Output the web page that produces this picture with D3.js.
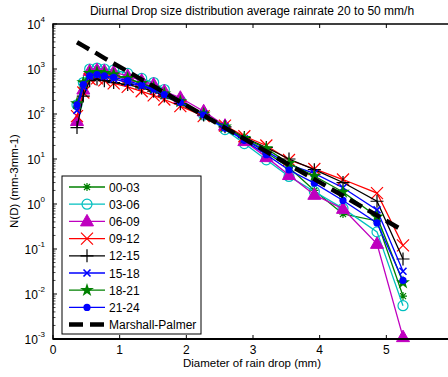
<!DOCTYPE html>
<html>
<head>
<meta charset="utf-8">
<script src="https://cdn.jsdelivr.net/npm/d3@7"></script>
<style>
  body { margin: 0; background: #fff; }
  svg { font-family: "Liberation Sans", Arial, sans-serif; display: block; }
</style>
</head>
<body>
<div id="container"></div>
<script>
// drop diameter bins (mm)
var diam = [0.36, 0.455, 0.55, 0.66, 0.77, 0.91, 1.12, 1.33, 1.51, 1.67, 1.91, 2.26, 2.58, 2.87, 3.2, 3.54, 3.92, 4.35, 4.86, 5.25]

// N(D) per 3 hour window
var n0003 = [150, 450, 750, 800, 750, 700, 600, 480, 380, 280, 190, 100, 52, 28, 14, 6.5, 2.0, 0.6, 0.42, 0.009]
var n0306 = [160, 500, 1000, 1050, 1000, 950, 800, 620, 500, 350, 200, 95, 45, 22, 9.6, 4.1, 1.9, 0.8, 0.24, 0.0055]
var n0609 = [70, 350, 900, 950, 900, 850, 700, 550, 450, 320, 230, 115, 55, 25, 11, 4.4, 1.6, 0.78, 0.13, 0.0011]
var n0912 = [90, 300, 600, 620, 560, 480, 400, 320, 260, 210, 150, 90, 55, 32, 20, 9.5, 6.0, 3.5, 1.75, 0.12]
var n1215 = [50, 250, 550, 600, 550, 500, 450, 380, 320, 250, 170, 95, 52, 30, 18, 10, 5.8, 3.0, 1.15, 0.06]
var n1518 = [120, 400, 700, 750, 680, 600, 500, 420, 340, 260, 180, 100, 52, 28, 15, 7.5, 4.8, 2.3, 0.74, 0.032]
var n1821 = [170, 500, 800, 850, 800, 750, 620, 480, 380, 280, 190, 100, 52, 29, 17, 8, 4.2, 1.85, 0.52, 0.018]
var n2124 = [160, 450, 700, 750, 700, 650, 550, 440, 360, 270, 180, 95, 48, 26, 12.5, 5.7, 2.9, 1.2, 0.38, 0.02]
// Marshall-Palmer reference values at the same bins
var nMP = [3944, 3264, 2702, 2197, 1751, 1324, 888, 582, 412, 301, 185, 93.4, 49.3, 28.1, 14.7, 7.43, 3.57, 1.52, 0.558, 0.259]

var labels = ["00-03", "03-06", "06-09", "09-12", "12-15", "15-18", "18-21", "21-24"]
var xTicks = [0, 1, 2, 3, 4, 5, 6]
var yTicks = [-3, -2, -1, 0, 1, 2, 3, 4]

var series = [
  { name: labels[0], values: n0003, color: "#008000", marker: "asterisk" },
  { name: labels[1], values: n0306, color: "#00bfbf", marker: "circle" },
  { name: labels[2], values: n0609, color: "#bf00bf", marker: "triangle" },
  { name: labels[3], values: n0912, color: "#ff0000", marker: "cross" },
  { name: labels[4], values: n1215, color: "#000000", marker: "plus" },
  { name: labels[5], values: n1518, color: "#0000ff", marker: "xsmall" },
  { name: labels[6], values: n1821, color: "#008000", marker: "star" },
  { name: labels[7], values: n2124, color: "#0000ff", marker: "dot" }
]

var width = 448, height = 377
var mLeft = 53, mRight = 453, mTop = 24, mBottom = 339

var svg = d3.select("#container").append("svg")
  .attr("width", width).attr("height", height)

var x = d3.scaleLinear().domain([0, 6]).range([mLeft, mRight])
var y = d3.scaleLog().domain([1e-3, 1e4]).range([mBottom, mTop])

var line = d3.line().x(function(d){ return x(d[0]) }).y(function(d){ return y(d[1]) })

// markers, MATLAB style
function drawMarker(g, type, color, cx, cy) {
  if (type === "circle") {
    g.append("circle").attr("cx", cx).attr("cy", cy).attr("r", 5)
      .attr("fill", "none").attr("stroke", color).attr("stroke-width", 1.2)
  } else if (type === "dot") {
    g.append("circle").attr("cx", cx).attr("cy", cy).attr("r", 3.6).attr("fill", color)
  } else if (type === "triangle") {
    g.append("path").attr("d", "M" + cx + "," + (cy - 7) + "L" + (cx + 6.5) + "," + (cy + 4.5) + "L" + (cx - 6.5) + "," + (cy + 4.5) + "Z")
      .attr("fill", color).attr("stroke", color)
  } else if (type === "star") {
    g.append("path").attr("d", d3.symbol(d3.symbolStar, 60)())
      .attr("transform", "translate(" + cx + "," + cy + ")").attr("fill", color)
  } else {
    var s = type === "cross" ? 6 : type === "plus" ? 6.5 : type === "xsmall" ? 3.5 : 4
    var d = ""
    if (type === "plus" || type === "asterisk") d += "M" + (cx - s) + "," + cy + "H" + (cx + s) + "M" + cx + "," + (cy - s) + "V" + (cy + s)
    if (type === "cross" || type === "xsmall" || type === "asterisk") {
      var k = type === "asterisk" ? s * 0.75 : s
      d += "M" + (cx - k) + "," + (cy - k) + "L" + (cx + k) + "," + (cy + k) + "M" + (cx - k) + "," + (cy + k) + "L" + (cx + k) + "," + (cy - k)
    }
    g.append("path").attr("d", d).attr("stroke", color).attr("fill", "none").attr("stroke-width", type === "xsmall" ? 1.6 : 1.2)
  }
}

var plot = svg.append("g")

series.forEach(function(s){
  var pts = diam.map(function(d, i){ return [d, s.values[i]] })
  plot.append("path").attr("d", line(pts))
    .attr("fill", "none").attr("stroke", s.color).attr("stroke-width", 1.3)
  var mg = plot.append("g")
  pts.forEach(function(p){ drawMarker(mg, s.marker, s.color, x(p[0]), y(p[1])) })
})

// Marshall-Palmer
plot.append("path").attr("d", line(diam.map(function(d, i){ return [d, nMP[i]] })))
  .attr("fill", "none").attr("stroke", "#000").attr("stroke-width", 4.5)
  .attr("stroke-dasharray", "14,7")

// axes box and ticks
var ax = svg.append("g").attr("stroke", "#000")
ax.append("rect").attr("x", mLeft).attr("y", mTop).attr("width", mRight - mLeft).attr("height", mBottom - mTop)
  .attr("fill", "none").attr("stroke-width", 1.5)
ax.append("line").attr("x1", mLeft).attr("x2", mRight).attr("y1", mBottom).attr("y2", mBottom).attr("stroke-width", 2)

xTicks.forEach(function(t){
  ax.append("line").attr("x1", x(t)).attr("x2", x(t)).attr("y1", mBottom).attr("y2", mBottom - 4).attr("stroke-width", 1)
  ax.append("line").attr("x1", x(t)).attr("x2", x(t)).attr("y1", mTop).attr("y2", mTop + 4).attr("stroke-width", 1)
})
yTicks.forEach(function(t, i){
  ax.append("line").attr("x1", mLeft).attr("x2", mLeft + 4).attr("y1", y(Math.pow(10, t))).attr("y2", y(Math.pow(10, t))).attr("stroke-width", 1)
  if (i < yTicks.length - 1) {
    for (var m = 2; m < 10; m++) {
      var v = m * Math.pow(10, t)
      ax.append("line").attr("x1", mLeft).attr("x2", mLeft + 2.5).attr("y1", y(v)).attr("y2", y(v)).attr("stroke-width", 0.7)
    }
  }
})

var txt = svg.append("g").attr("fill", "#000").attr("font-size", 12)
xTicks.filter(function(t){ return t < 6 }).forEach(function(t){
  txt.append("text").attr("x", x(t)).attr("y", mBottom + 15).attr("text-anchor", "middle").text(t)
})
yTicks.forEach(function(t){
  var yy = y(Math.pow(10, t))
  var tt = txt.append("text").attr("x", 45).attr("y", yy + 5).attr("text-anchor", "end")
  tt.append("tspan").text("10")
  tt.append("tspan").attr("font-size", 8).attr("dy", -7).text(t)
})

txt.append("text").attr("x", 252).attr("y", 15).attr("text-anchor", "middle").attr("font-size", 12)
  .text("Diurnal Drop size distribution average rainrate 20 to 50 mm/h")
txt.append("text").attr("x", 252).attr("y", 367).attr("text-anchor", "middle").attr("font-size", 11.5)
  .text("Diameter of rain drop (mm)")
txt.append("text").attr("transform", "translate(18,181) rotate(-90)").attr("text-anchor", "middle").attr("font-size", 11.5)
  .text("N(D) (mm-3mm-1)")

// legend
var lg = svg.append("g")
lg.append("rect").attr("x", 62).attr("y", 176).attr("width", 139).attr("height", 158)
  .attr("fill", "#fff").attr("stroke", "#000").attr("stroke-width", 1)
series.forEach(function(s, i){
  var yy = 187 + i * 17.2
  lg.append("line").attr("x1", 69).attr("x2", 105).attr("y1", yy).attr("y2", yy)
    .attr("stroke", s.color).attr("stroke-width", 1.3)
  drawMarker(lg, s.marker, s.color, 87, yy)
  lg.append("text").attr("x", 109).attr("y", yy + 4.5).attr("font-size", 12).text(s.name)
})
var mpY = 187 + 8 * 17.2
lg.append("line").attr("x1", 69).attr("x2", 105).attr("y1", mpY).attr("y2", mpY)
  .attr("stroke", "#000").attr("stroke-width", 4.5).attr("stroke-dasharray", "14,7")
lg.append("text").attr("x", 109).attr("y", mpY + 4.5).attr("font-size", 12).text("Marshall-Palmer")
</script>
</body>
</html>
